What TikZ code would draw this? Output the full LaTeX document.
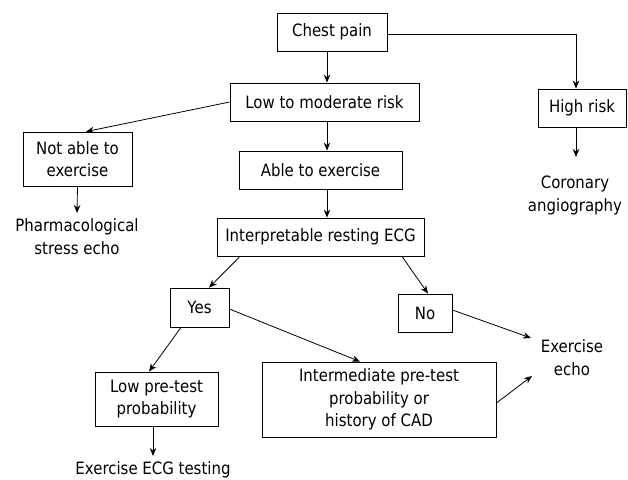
\documentclass[tikz,border=0pt]{standalone}
\usepackage{fontspec}
\setmainfont{DejaVu Sans}[FakeStretch=0.88]
\usetikzlibrary{arrows.meta}
\begin{document}
\begin{tikzpicture}[x=1pt,y=-1pt,
  box/.style={draw=black, line width=0.8pt, align=center, inner sep=0pt, font=\fontsize{17}{22.5}\selectfont},
  lbl/.style={align=center, inner sep=0pt, font=\fontsize{17}{23}\selectfont},
  arr/.style={-{Stealth[length=8pt,width=6.5pt]}, line width=0.8pt}]
\useasboundingbox (0,0) rectangle (628,479);
\fill[white] (0,0) rectangle (628,479);

% boxes
\node[box, minimum width=110pt, minimum height=38pt] (chest) at (332,32) {Chest pain};
\node[box, minimum width=189pt, minimum height=38pt] (low) at (324.5,102) {Low to moderate risk};
\node[box, minimum width=163pt, minimum height=38pt] (able) at (320.5,170) {Able to exercise};
\node[box, minimum width=207pt, minimum height=38pt] (interp) at (320.5,237) {Interpretable resting ECG};
\node[box, minimum width=109pt, minimum height=54pt] (notable) at (77.5,159) {Not able to\\exercise};
\node[box, minimum width=88pt, minimum height=38pt] (high) at (582,108) {High risk};
\node[box, minimum width=59pt, minimum height=39pt] (yes) at (199.5,307.5) {Yes};
\node[box, minimum width=54pt, minimum height=38pt] (no) at (425,313) {No};
\node[box, minimum width=123pt, minimum height=54pt] (lowpt) at (156.5,399) {Low pre-test\\probability};
\node[box, minimum width=234pt, minimum height=75pt] (inter) at (379,399.5) {Intermediate pre-test\\probability or\\history of CAD};

% outcome texts
\node[lbl] (coronary) at (575,195) {Coronary\\angiography};
\node[lbl] (pharma) at (77,237) {Pharmacological\\stress echo};
\node[lbl] (echo) at (572,358) {Exercise\\echo};
\node[lbl] (ecg) at (153,469.5) {Exercise ECG testing};

% free-end tips near outcome texts
\coordinate (tipCor) at (576,157);
\coordinate (tipPh) at (77,213);
\coordinate (tipEchoA) at (531,338);
\coordinate (tipEchoB) at (532,376);
\coordinate (tipEcg) at (153,456);

% connectors
\draw[arr] ([xshift=-5pt]chest.south) -- ([xshift=2.5pt]low.north);
\draw[arr] ([yshift=-2pt]chest.east) -| ([xshift=-6pt]high.north);
\draw[arr] ([xshift=-6pt]high.south) -- (tipCor);
\draw[arr] (low.west) -- ([xshift=8.5pt]notable.north);
\draw[arr] ([xshift=2.5pt]low.south) -- ([xshift=6.5pt]able.north);
\draw[arr] ([xshift=6.5pt]able.south) -- ([xshift=6.5pt]interp.north);
\draw[arr] (notable.south) -- (tipPh);
\draw[arr] ([xshift=-80.5pt]interp.south) -- ([xshift=9.5pt]yes.north);
\draw[arr] ([xshift=81.5pt]interp.south) -- ([xshift=3pt]no.north);
\draw[arr] ([xshift=-18.5pt]yes.south) -- ([xshift=-7.5pt]lowpt.north);
\draw[arr] ([yshift=-1.5pt]yes.east) -- ([xshift=-19pt]inter.north);
\draw[arr] ([yshift=3pt]no.east) -- (tipEchoA);
\draw[arr] ([yshift=-3.5pt]inter.east) -- (tipEchoB);
\draw[arr] ([xshift=-3.5pt]lowpt.south) -- (tipEcg);
\end{tikzpicture}
\end{document}
